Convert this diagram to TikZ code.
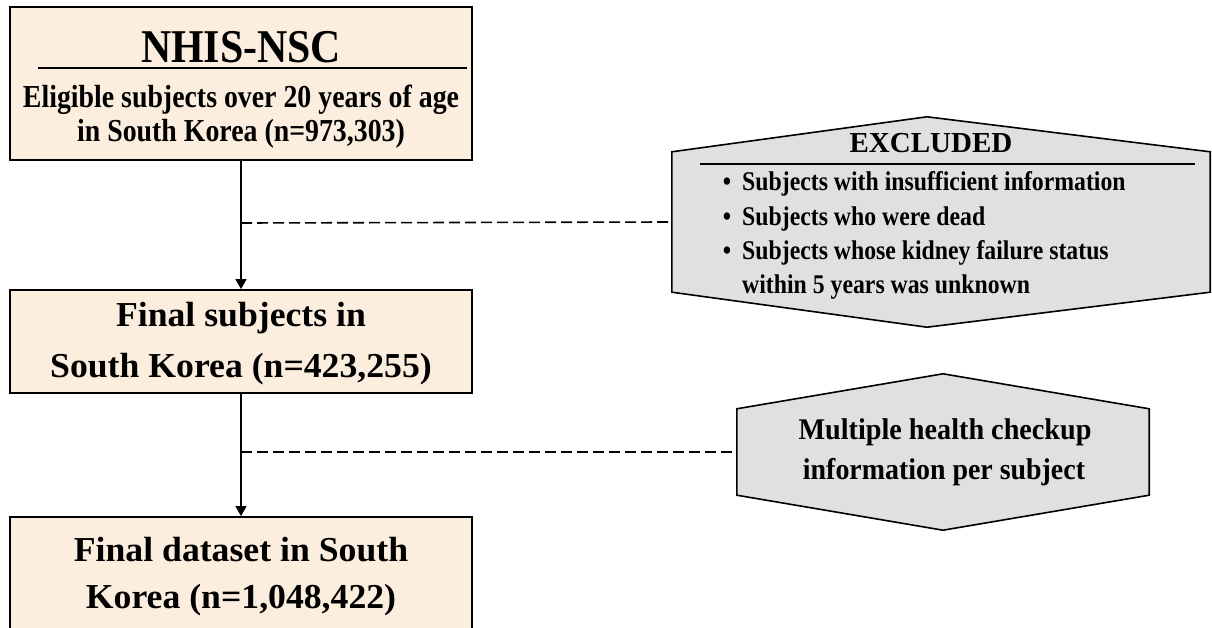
\documentclass[tikz,border=0pt]{standalone}
\usepackage{fontspec}
\setmainfont{Liberation Serif}
\usepackage{graphicx}
\usepackage{tikz}
\usetikzlibrary{arrows.meta, calc}
\definecolor{boxpeach}{RGB}{252, 238, 222}
\definecolor{excgray}{RGB}{224, 224, 224}
\newcommand{\narrow}[2]{\scalebox{#1}[1]{#2}}

\begin{document}
\begin{tikzpicture}[x=1pt, y=-1pt,
    mainbox/.style={draw, line width=1.8pt, fill=boxpeach, minimum width=462pt, inner sep=0pt},
    hexbox/.style={minimum width=#1, inner sep=0pt},
    flow/.style={line width=1.6pt, -{Triangle[width=11pt,length=10pt]}},
    dashline/.style={line width=1.6pt, dash pattern=on 11pt off 5pt},
    txt/.style={anchor=base, inner sep=0pt, font=\bfseries}
]
    \clip (0,0) rectangle (1212,628);

    % Boxes
    \node[mainbox, minimum height=153pt] (src) at (241,83.5) {};
    \node[mainbox, minimum height=103pt] (fin) at (241,341.5) {};
    \node[mainbox, minimum height=140pt] (data) at (241,587) {};

    \node[txt, font=\fontsize{47}{50}\selectfont\bfseries] (srctitle) at (241,63) {\narrow{0.89}{NHIS-NSC}};
    \draw[line width=1.6pt] (38,68) -- (467,68);
    \node[txt, font=\fontsize{32}{35}\selectfont\bfseries] (src1) at (241,108) {\narrow{0.87}{Eligible subjects over 20 years of age}};
    \node[txt, font=\fontsize{32}{35}\selectfont\bfseries] (src2) at (241,142) {\narrow{0.87}{in South Korea (n=973,303)}};

    \node[txt, font=\fontsize{35}{38}\selectfont\bfseries] (fin1) at (241,326) {\narrow{1.02}{Final subjects in}};
    \node[txt, font=\fontsize{35}{38}\selectfont\bfseries] (fin2) at (241,377) {\narrow{1.02}{South Korea (n=423,255)}};

    \node[txt, font=\fontsize{35}{38}\selectfont\bfseries] (data1) at (241,561) {\narrow{1.02}{Final dataset in South}};
    \node[txt, font=\fontsize{35}{38}\selectfont\bfseries] (data2) at (241,608) {\narrow{1.02}{Korea (n=1,048,422)}};

    % Exclusion hexagons
    \node[hexbox=538pt, minimum height=140pt] (exc) at (941,222) {};
    \fill[excgray] (exc.north west) -- ($(exc.north)+(-14,-35)$) -- (exc.north east)
        -- (exc.south east) -- ($(exc.south)+(-14,35)$) -- (exc.south west) -- cycle;
    \draw[line width=1.6pt] (exc.north west) -- ($(exc.north)+(-14,-35)$) -- (exc.north east)
        -- (exc.south east) -- ($(exc.south)+(-14,35)$) -- (exc.south west) -- cycle;
    \node[txt, font=\fontsize{29}{32}\selectfont\bfseries] (exctitle) at (931,153) {EXCLUDED};
    \draw[line width=1.6pt] (700,164) -- (1195,164);
    \foreach \y/\item [count=\i] in {
        191/Subjects with insufficient information,
        226/Subjects who were dead,
        260/Subjects whose kidney failure status
    } {
        \node[anchor=base, inner sep=0pt, font=\fontsize{27}{30}\selectfont\bfseries] (dot\i) at (727,\y) {\narrow{0.88}{\textbullet}};
        \node[anchor=base west, inner sep=0pt, font=\fontsize{27}{30}\selectfont\bfseries] (item\i) at (742,\y) {\narrow{0.88}{\item}};
    }
    \node[anchor=base west, inner sep=0pt, font=\fontsize{27}{30}\selectfont\bfseries] (item4) at (742,294) {\narrow{0.88}{within 5 years was unknown}};

    \node[hexbox=412pt, minimum height=86pt] (multi) at (943,452) {};
    \fill[excgray] (multi.north west) -- ($(multi.north)+(0,-35)$) -- (multi.north east)
        -- (multi.south east) -- ($(multi.south)+(0,35)$) -- (multi.south west) -- cycle;
    \draw[line width=1.6pt] (multi.north west) -- ($(multi.north)+(0,-35)$) -- (multi.north east)
        -- (multi.south east) -- ($(multi.south)+(0,35)$) -- (multi.south west) -- cycle;
    \node[txt, font=\fontsize{30}{33}\selectfont\bfseries] (multi1) at (945,439) {\narrow{0.94}{Multiple health checkup}};
    \node[txt, font=\fontsize{30}{33}\selectfont\bfseries] (multi2) at (944,479) {\narrow{0.93}{information per subject}};

    % Connectors
    \draw[flow] (src) -- (fin);
    \draw[flow] (fin) -- (data);
    \coordinate (j1) at (241,223);
    \coordinate (j2) at (241,452);
    \draw[dashline] (j1) -- (exc.west);
    \draw[dashline] (j2) -- (multi.west);
\end{tikzpicture}
\end{document}
